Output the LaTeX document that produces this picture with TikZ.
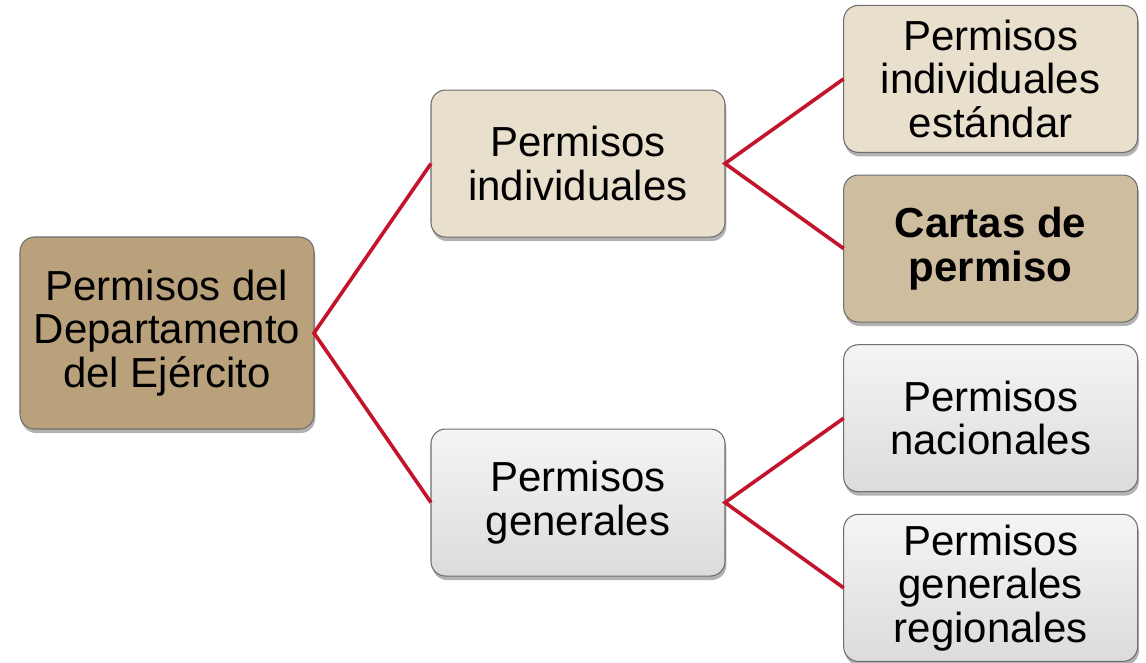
\documentclass[tikz,border=0pt]{standalone}
\usepackage{fontspec}
\setmainfont{Liberation Sans}
\usepackage{tikz}
\usetikzlibrary{positioning, shadows}
\definecolor{rootfill}{HTML}{B9A17B}
\definecolor{beigefill}{HTML}{E8DFCD}
\definecolor{cartasfill}{HTML}{CFBD9F}
\definecolor{linkred}{HTML}{C3142C}
\definecolor{boxedge}{HTML}{6E6E6E}
\tikzset{
  permbox/.style={draw=boxedge, line width=0.8pt, rounded corners=11pt,
    minimum width=220.5pt, minimum height=110.25pt, inner sep=0pt, outer sep=0pt,
    align=center, font=\fontsize{31.5}{32.6}\selectfont,
    drop shadow={shadow xshift=1pt, shadow yshift=-3pt, opacity=0.3, fill=black}},
  beigebox/.style={permbox, fill=beigefill},
  graybox/.style={permbox, top color=gray!8, bottom color=gray!28},
  link/.style={draw=linkred, line width=2.7pt}
}
\begin{document}
\begin{tikzpicture}
  \useasboundingbox (0pt,0pt) rectangle (859.5pt,-496.5pt);
  \node[permbox, fill=rootfill, minimum height=144pt] (root) at (125.25pt,-249.75pt)
    {Permisos del\\Departamento\\del Ejército};
  \node[beigebox] (indiv) [right=87.75pt of root, yshift=127.1pt] {Permisos\\individuales};
  \node[graybox]  (gener) [below=144pt of indiv] {Permisos\\generales};
  \node[beigebox] (estand) [right=89pt of indiv, yshift=63.5pt] {Permisos\\individuales\\estándar};
  \node[permbox, fill=cartasfill, font=\fontsize{31.5}{32.6}\selectfont\bfseries] (cartas)
    [below=17pt of estand] {Cartas de\\permiso};
  \node[graybox]  (nacion) [below=17pt of cartas] {Permisos\\nacionales};
  \node[graybox]  (region) [below=17pt of nacion] {Permisos\\generales\\regionales};
  % connectors
  \draw[link] (indiv.west) -- (root.east) -- (gener.west);
  \draw[link] (estand.west) -- (indiv.east) -- (cartas.west);
  \draw[link] (nacion.west) -- (gener.east) -- (region.west);
\end{tikzpicture}
\end{document}
